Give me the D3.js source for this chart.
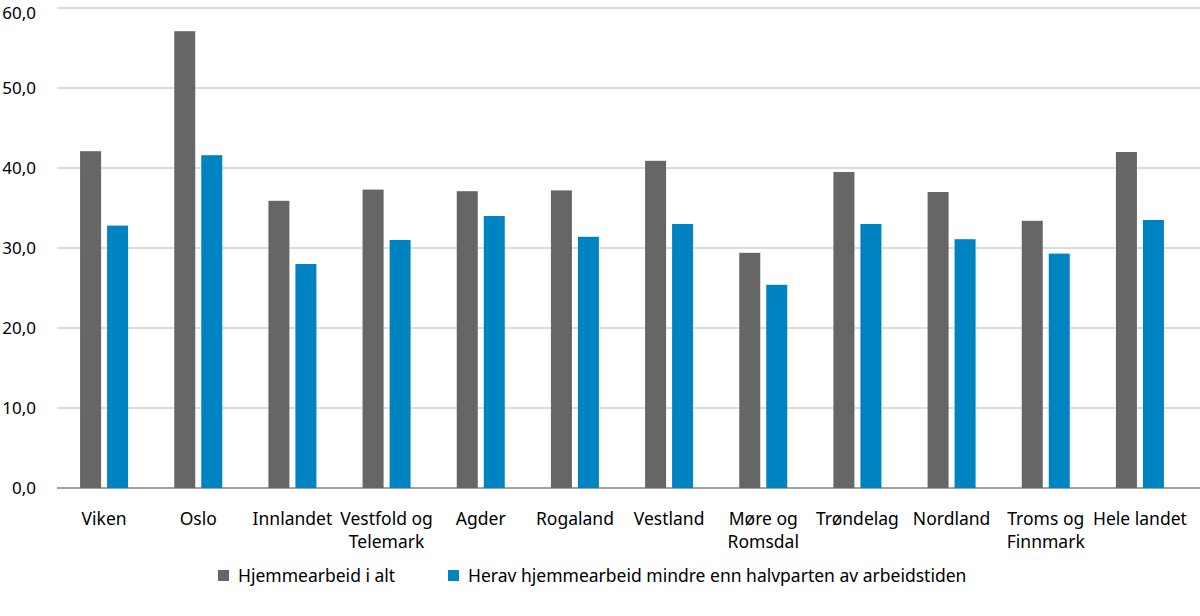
<!DOCTYPE html>
<html><head><meta charset="utf-8">
<script src="https://cdn.jsdelivr.net/npm/d3@7"></script>
<style>body{margin:0;background:#fff}text{font-family:"Noto Sans",sans-serif}</style>
</head><body><div id="chart"></div>
<script>
var categories = ["Viken","Oslo","Innlandet","Vestfold og|Telemark","Agder","Rogaland","Vestland","Møre og|Romsdal","Trøndelag","Nordland","Troms og|Finnmark","Hele landet"];
var totalt = [42.1,57.1,35.9,37.3,37.1,37.2,40.9,29.4,39.5,37.0,33.4,42.0];
var herav = [32.8,41.6,28.0,31.0,34.0,31.4,33.0,25.4,33.0,31.1,29.3,33.5];
var yTicks = [0,10,20,30,40,50,60];
var seriesNames = ["Hjemmearbeid i alt","Herav hjemmearbeid mindre enn halvparten av arbeidstiden"];
var colors = ["#666666","#0083c1"];

var width = 1200, height = 616;
var svg = d3.select('#chart').append('svg').attr('width', width).attr('height', height);

var x = d3.scaleBand().domain(categories).range([57, 1187]);
var y = d3.scaleLinear().domain([0,60]).range([488, 8]);
var fmt = function(v){ return d3.format(".1f")(v).replace(".", ","); };

svg.selectAll('line.grid').data(yTicks).enter().append('line')
    .attr('x1', 57).attr('x2', width)
    .attr('y1', function(d){ return y(d); }).attr('y2', function(d){ return y(d); })
    .attr('stroke', function(d){ return d === 0 ? '#444' : '#bbb'; })
    .attr('stroke-width', 1);
svg.selectAll('text.ytick').data(yTicks).enter().append('text')
    .attr('x', 36).attr('y', function(d){ return Math.max(y(d) + 6, 19); })
    .attr('text-anchor', 'end').attr('font-size', 17).text(fmt);

var bw = 21, gap = 6;
[totalt, herav].forEach(function(vals, s){
    svg.selectAll('rect.s' + s).data(vals).enter().append('rect')
        .attr('x', function(d, i){ return x(categories[i]) + x.bandwidth()/2 - bw - gap/2 + s*(bw+gap); })
        .attr('y', function(d){ return y(d); })
        .attr('width', bw)
        .attr('height', function(d){ return y(0) - y(d); })
        .attr('fill', colors[s]);
});

var lab = svg.selectAll('text.cat').data(categories).enter().append('text')
    .attr('text-anchor', 'middle').attr('font-size', 17.5)
    .attr('transform', function(d){ return 'translate(' + (x(d) + x.bandwidth()/2) + ',525)'; });
lab.selectAll('tspan').data(function(d){ return d.split('|'); }).enter().append('tspan')
    .attr('x', 0).attr('dy', function(d, i){ return i ? 23 : 0; }).text(function(d){ return d; });

var lx = [218, 448];
seriesNames.forEach(function(n, i){
    svg.append('rect').attr('x', lx[i]).attr('y', 570).attr('width', 11).attr('height', 11).attr('fill', colors[i]);
    svg.append('text').attr('x', lx[i] + 20).attr('y', 582).attr('font-size', 17.5).text(n);
});
</script></body></html>
